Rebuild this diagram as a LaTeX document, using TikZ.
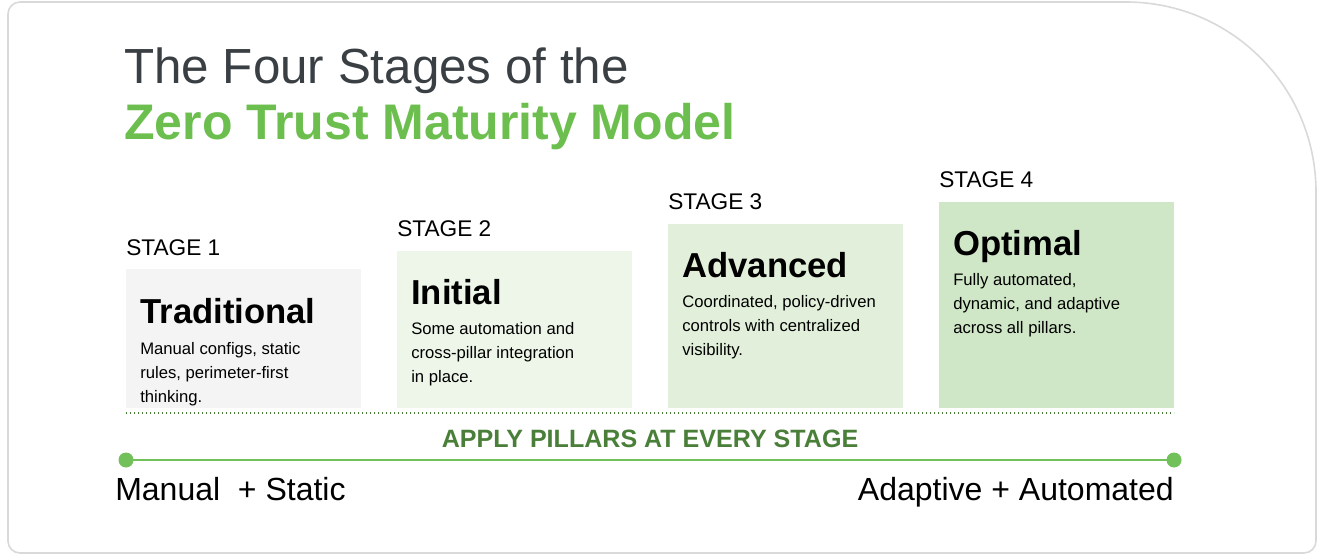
\documentclass[tikz,border=0pt]{standalone}
\usepackage{fontspec}
\setmainfont{Liberation Sans}
\definecolor{frame}{HTML}{D9D9D9}
\definecolor{titlegray}{HTML}{3A3F44}
\definecolor{zgreen}{HTML}{6CBF4E}
\definecolor{dgreen}{HTML}{4A7F3A}
\definecolor{lgreen}{HTML}{72C05A}
\definecolor{fillA}{HTML}{F4F4F4}
\definecolor{fillB}{HTML}{EEF6EA}
\definecolor{fillC}{HTML}{E2F0DB}
\definecolor{fillD}{HTML}{CFE7C7}
\tikzset{
  stagelbl/.style={anchor=base west, inner sep=0pt, font=\fontsize{17}{17}\selectfont},
  head/.style={anchor=base west, inner sep=0pt, font=\fontsize{26}{26}\selectfont\bfseries},
  body/.style={anchor=north west, inner sep=0pt, align=left, font=\fontsize{12.5}{18}\selectfont},
}
\begin{document}
\begin{tikzpicture}[x=0.75pt,y=-0.75pt]
\useasboundingbox (0,0) rectangle (1319,556);
% frame
\draw[frame, line width=1.2pt] (20,2) -- (1126,2) arc[start angle=270, end angle=360, radius=190]
  -- (1316,541) arc[start angle=0, end angle=90, radius=12] -- (20,553)
  arc[start angle=90, end angle=180, radius=12] -- (8,14) arc[start angle=180, end angle=270, radius=12] -- cycle;
% title
\node[anchor=base west, inner sep=0pt, text=titlegray, font=\fontsize{37}{37}\selectfont] (t1) at (124,84) {The Four Stages of the};
\node[anchor=base west, inner sep=0pt, text=zgreen, font=\fontsize{37.5}{37.5}\selectfont\bfseries] (t2) at (124,140) {Zero Trust Maturity Model};
% boxes
\fill[fillA] (126,269) rectangle (361,408);
\fill[fillB] (397,251) rectangle (632,408);
\fill[fillC] (668,224) rectangle (903,408);
\fill[fillD] (939,202) rectangle (1174,408);
% stage 1
\node[stagelbl] (s1) at (126,255) {STAGE 1};
\node[head] (h1) at (140,323) {Traditional};
\node[body] (b1) at (140,342) {Manual configs, static\\rules, perimeter-first\\thinking.};
% stage 2
\node[stagelbl] (s2) at (397,236) {STAGE 2};
\node[head] (h2) at (411,304) {Initial};
\node[body] (b2) at (411,322) {Some automation and\\cross-pillar integration\\in place.};
% stage 3
\node[stagelbl] (s3) at (668,209) {STAGE 3};
\node[head] (h3) at (682,277) {Advanced};
\node[body] (b3) at (682,295) {Coordinated, policy-driven\\controls with centralized\\visibility.};
% stage 4
\node[stagelbl] (s4) at (939,187) {STAGE 4};
\node[head] (h4) at (953,255) {Optimal};
\node[body] (b4) at (953,273) {Fully automated,\\dynamic, and adaptive\\across all pillars.};
% baseline
\coordinate (dl) at (126,413);
\coordinate (dr) at (1174,413);
\draw[dgreen, line width=1pt, dotted] (dl) -- (dr);
\node[anchor=base, inner sep=0pt, text=dgreen, font=\fontsize{18.8}{18.8}\selectfont\bfseries] (apply) at (650,447) {APPLY PILLARS AT EVERY STAGE};
\coordinate (pl) at (126,460);
\coordinate (pr) at (1174,460);
\draw[lgreen, line width=2.2pt] (pl) -- (pr);
\fill[lgreen] (pl) circle (7.5);
\fill[lgreen] (pr) circle (7.5);
\node[anchor=base west, inner sep=0pt, font=\fontsize{24}{24}\selectfont] (lo) at (115,500) {Manual \ + Static};
\node[anchor=base east, inner sep=0pt, font=\fontsize{24}{24}\selectfont] (hi) at (1174,500) {Adaptive + Automated};
\end{tikzpicture}
\end{document}
